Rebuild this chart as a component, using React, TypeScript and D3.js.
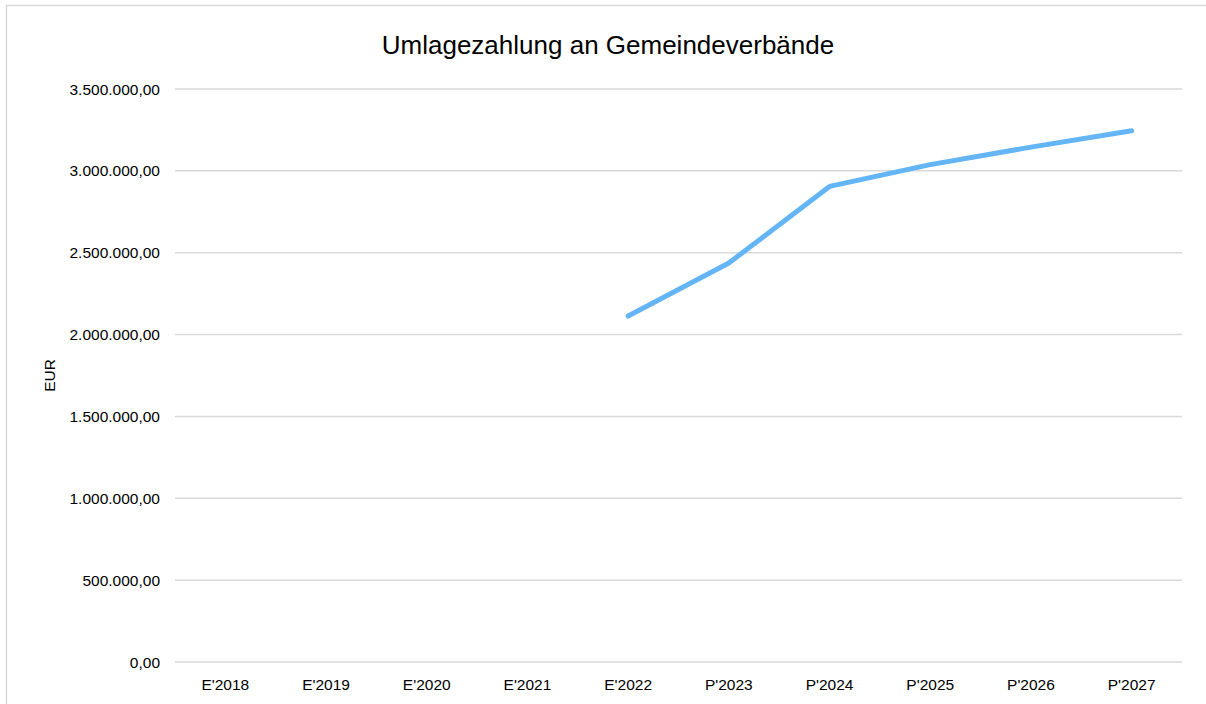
import React from "react";
import * as d3 from "d3";

const categories = ["E'2018", "E'2019", "E'2020", "E'2021", "E'2022", "P'2023", "P'2024", "P'2025", "P'2026", "P'2027"];
const values: (number | null)[] = [null, null, null, null, 2113000, 2437000, 2905000, 3038000, 3145000, 3245000];
const yTicks = [0, 500000, 1000000, 1500000, 2000000, 2500000, 3000000, 3500000];
const title = "Umlagezahlung an Gemeindeverbände";
const yLabel = "EUR";

const W = 1206, H = 704;
const left = 175, right = 1182, top = 89, bottom = 662;

const fmt = (v: number) =>
  d3.format(",.2f")(v).replace(/,/g, "X").replace(/\./g, ",").replace(/X/g, ".");

export default function App() {
  const x = d3.scaleBand().domain(categories).range([left, right]).padding(0);
  const y = d3.scaleLinear().domain([0, 3500000]).range([bottom, top]);
  const pts = categories.map((c, i) => ({ c, v: values[i] }));
  const line = d3
    .line<{ c: string; v: number | null }>()
    .defined((d) => d.v !== null)
    .x((d) => (x(d.c) as number) + x.bandwidth() / 2)
    .y((d) => y(d.v as number));
  const font = "Liberation Sans, Arial, sans-serif";
  return (
    <svg width={W} height={H} style={{ position: "absolute", left: 0, top: 0 }}>
      <rect x={0} y={0} width={W} height={H} fill="#fff" />
      <rect x={6.5} y={5.5} width={W + 10} height={H + 10} fill="none" stroke="#d9d9d9" strokeWidth={1.5} />
      <text x={608} y={54} textAnchor="middle" fontFamily={font} fontSize={26} fill="#000">
        {title}
      </text>
      {yTicks.map((t) => (
        <g key={t}>
          <line x1={left} x2={right} y1={y(t)} y2={y(t)} stroke="#d9d9d9" strokeWidth={1.5} />
          <text x={160} y={y(t) + 5.5} textAnchor="end" fontFamily={font} fontSize={15.5} fill="#000">
            {fmt(t)}
          </text>
        </g>
      ))}
      {categories.map((c) => (
        <text
          key={c}
          x={(x(c) as number) + x.bandwidth() / 2}
          y={690}
          textAnchor="middle"
          fontFamily={font}
          fontSize={15.5}
          fill="#000"
        >
          {c}
        </text>
      ))}
      <text
        transform={`translate(55,${(top + bottom) / 2}) rotate(-90)`}
        textAnchor="middle"
        fontFamily={font}
        fontSize={15.5}
        fill="#000"
      >
        {yLabel}
      </text>
      <path
        d={line(pts) || ""}
        fill="none"
        stroke="#64b5f6"
        strokeWidth={5}
        strokeLinecap="round"
        strokeLinejoin="round"
      />
    </svg>
  );
}
